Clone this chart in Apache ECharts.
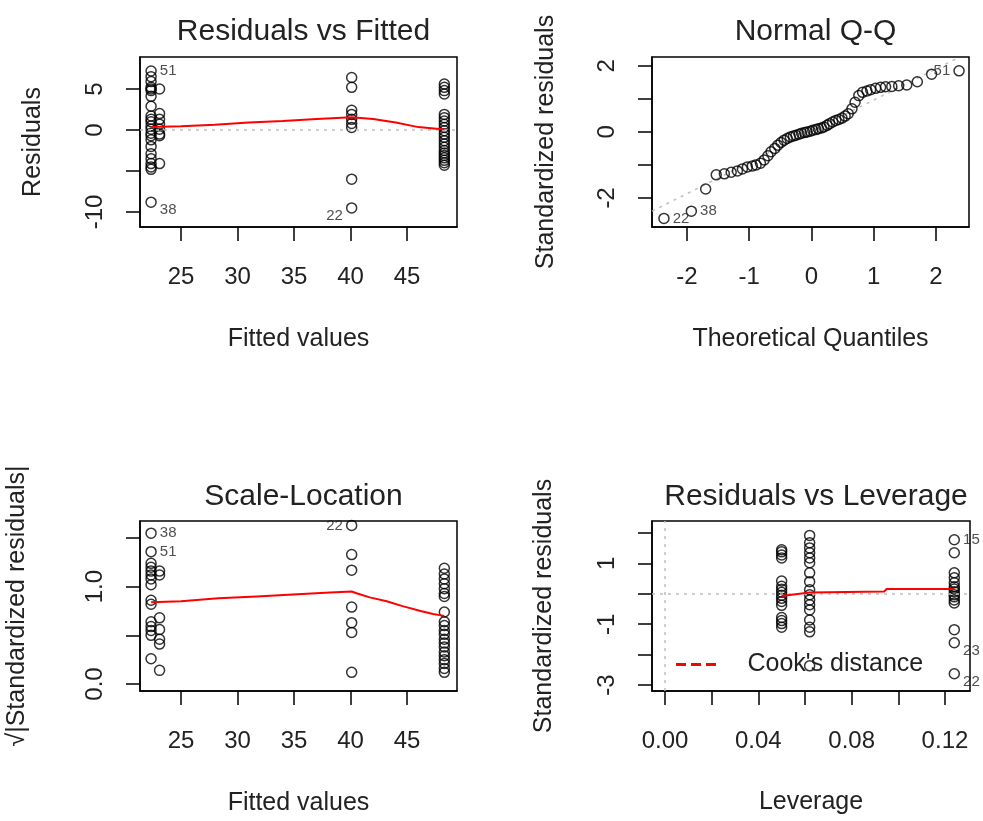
<!DOCTYPE html>
<html><head><meta charset="utf-8">
<script src="https://cdn.jsdelivr.net/npm/echarts@6/dist/echarts.min.js"></script>
<style>html,body{margin:0;padding:0;background:#fff}#c{width:983px;height:821px}</style>
</head><body><div id="c"></div>
<script>
const FONT = "'Liberation Sans', Arial, sans-serif";

// ---------- Panel 1: Residuals vs Fitted ----------
const rvfFitted = [22.35, 23.1, 40.1, 48.3];
const rvfResidA = [6.5, 5.9, 5.2, 5.0, 4.8, 4.1, 2.9, 1.7, 1.3, 1.0, 0.5, 0.1, -0.4, -0.7, -1.2, -2.0, -2.9, -3.5, -4.1, -4.5, -4.8];
const rvfResidB = [5.0, 2.0, 1.3, 0.7, 0.1, -0.5, -0.7, -4.1];
const rvfResidC = [6.4, 5.2, 2.4, 1.9, 1.3, 0.8, 0.3, -6.0];
const rvfResidD = [5.6, 5.2, 4.8, 4.4, 1.9, 1.5, 1.1, 0.7, 0.3, -0.1, -0.5, -0.9, -1.3, -1.7, -2.1, -2.5, -2.8, -3.1, -3.4, -3.7, -4.0, -4.3];
const rvfFlagIds = ['51', '38', '22'];
const rvfFlagFitted = [22.35, 22.35, 40.1];
const rvfFlagResid = [7.2, -8.8, -9.5];
const rvfSmoothX = [22.35, 25, 28, 31, 34, 37, 40.1, 42, 44, 46, 48.3];
const rvfSmoothY = [0.35, 0.45, 0.65, 0.9, 1.1, 1.35, 1.55, 1.35, 0.9, 0.35, 0.05];
const rvfXTicks = [25, 30, 35, 40, 45];
const rvfYTicks = [-10, -5, 0, 5];
const rvfYLabels = [-10, 0, 5];

// ---------- Panel 2: Normal Q-Q ----------
const qqTheo = [-1.70,-1.53,-1.40,-1.29,-1.19,-1.11,-1.03,-0.95,-0.89,-0.82,-0.76,-0.70,-0.65,-0.59,-0.54,-0.49,-0.44,-0.39,-0.34,-0.29,-0.25,-0.20,-0.16,-0.11,-0.07,-0.02,0.02,0.07,0.11,0.16,0.20,0.25,0.29,0.34,0.39,0.44,0.49,0.54,0.59,0.65,0.70,0.76,0.82,0.89,0.95,1.03,1.11,1.19,1.29,1.40,1.53,1.70,1.93];
const qqStd = [-1.73,-1.30,-1.27,-1.22,-1.18,-1.12,-1.06,-1.03,-1.00,-0.95,-0.85,-0.72,-0.60,-0.50,-0.40,-0.32,-0.25,-0.20,-0.15,-0.12,-0.10,-0.07,-0.04,-0.02,0.00,0.02,0.05,0.07,0.10,0.12,0.15,0.20,0.25,0.30,0.35,0.38,0.42,0.48,0.55,0.70,0.90,1.10,1.20,1.24,1.28,1.32,1.35,1.37,1.38,1.40,1.42,1.52,1.75];
const qqFlagIds = ['22', '38', '51'];
const qqFlagTheo = [-2.37, -1.93, 2.37];
const qqFlagStd = [-2.62, -2.40, 1.85];
const qqLineX = [-2.56, 2.38];
const qqLineY = [-2.40, 2.27];
const qqXTicks = [-2, -1, 0, 1, 2];
const qqYTicks = [-2, -1, 0, 1, 2];
const qqYLabels = [-2, 0, 2];

// ---------- Panel 3: Scale-Location ----------
const slFitted = [22.35, 23.1, 40.1, 48.3];
const slValA = [1.24, 1.20, 1.16, 1.12, 1.08, 1.02, 0.86, 0.82, 0.64, 0.59, 0.55, 0.50, 0.26];
const slValB = [1.16, 1.12, 0.68, 0.56, 0.46, 0.41, 0.14];
const slValC = [1.33, 1.17, 0.79, 0.63, 0.53, 0.12];
const slValD = [1.19, 1.13, 1.08, 1.03, 0.98, 0.93, 0.90, 0.74, 0.64, 0.60, 0.55, 0.51, 0.46, 0.42, 0.38, 0.33, 0.29, 0.25, 0.21, 0.16, 0.12];
const slFlagIds = ['38', '51', '22'];
const slFlagFitted = [22.35, 22.35, 40.1];
const slFlagVal = [1.55, 1.36, 1.63];
const slSmoothX = [22.35, 25, 28.3, 31.7, 34.9, 38.2, 40.1, 40.6, 41.7, 43.2, 44.6, 46.2, 47.3, 48.3];
const slSmoothY = [0.84, 0.85, 0.88, 0.90, 0.92, 0.94, 0.95, 0.93, 0.89, 0.85, 0.80, 0.75, 0.72, 0.70];
const slYTicks = [0, 0.5, 1.0, 1.5];
const slYLabels = [0, 1.0];

// ---------- Panel 4: Residuals vs Leverage ----------
const levLevels = [0.05, 0.062, 0.124];
const levStdA = [1.45, 1.38, 1.28, 1.18, 0.42, 0.25, 0.15, 0.05, -0.05, -0.15, -0.25, -0.38, -0.78, -0.88, -0.98, -1.10];
const levStdB = [1.92, 1.68, 1.51, 1.35, 1.18, 1.02, 0.69, 0.40, 0.13, -0.03, -0.20, -0.36, -0.53, -0.86, -1.10, -1.25, -2.37];
const levStdC = [1.35, 0.69, 0.53, 0.36, 0.23, 0.16, 0.07, -0.03, -0.10, -0.20, -0.30, -1.18];
const levFlagIds = ['15', '23', '22'];
const levFlagLev = [0.124, 0.124, 0.124];
const levFlagStd = [1.78, -1.61, -2.63];
const levSmoothX = [0.05, 0.062, 0.094, 0.095, 0.124];
const levSmoothY = [-0.07, 0.04, 0.08, 0.16, 0.16];
const levXTicks = [0, 0.02, 0.04, 0.06, 0.08, 0.10, 0.12];
const levXLabels = [0, 0.04, 0.08, 0.12];
const levYTicks = [-3, -2, -1, 0, 1, 2];
const levYLabels = [-3, -1, 1];

// ---------- helpers ----------
function cols(levels, arrays) {
  const out = [];
  arrays.forEach((arr, i) => arr.forEach(v => out.push([levels[i], v])));
  return out;
}
function pairs(xs, ys) { return xs.map((x, i) => [x, ys[i]]); }
const pointStyle = { color: 'rgba(0,0,0,0)', borderColor: '#000', borderWidth: 1.5 };
function scatter(gi, data) {
  return { type: 'scatter', xAxisIndex: gi, yAxisIndex: gi, data, symbol: 'circle', symbolSize: 10,
    itemStyle: pointStyle, silent: true, z: 2 };
}
function flagged(gi, xs, ys, ids, mid, shiftNeg) {
  const data = xs.map((x, i) => ({
    value: [x, ys[i]],
    label: { show: true, formatter: ids[i], position: x > mid ? 'left' : 'right', distance: 3,
      offset: [0, (shiftNeg && ys[i] < 0) ? 8 : 0], fontSize: 15, color: '#222', fontFamily: FONT }
  }));
  return scatter(gi, data);
}
function redLine(gi, xs, ys) {
  return { type: 'line', xAxisIndex: gi, yAxisIndex: gi, data: pairs(xs, ys), showSymbol: false, symbol: 'none',
    lineStyle: { color: '#ff0000', width: 2 }, silent: true, z: 5 };
}
const dotted = { color: '#bebebe', type: [3, 5], width: 1.5 };
function xAx(gi, min, max, ticks, labels, fmt, name, nameGap) {
  return { type: 'value', gridIndex: gi, min, max, position: 'bottom',
    axisLine: { show: true, onZero: false, lineStyle: { color: '#000', width: 1.5 } },
    splitLine: { show: false },
    axisTick: { show: true, length: 14, lineStyle: { color: '#000', width: 1.5 }, customValues: ticks },
    axisLabel: { customValues: labels, formatter: fmt, fontSize: 24, color: '#222', margin: 38, fontFamily: FONT },
    name, nameLocation: 'middle', nameGap, nameTextStyle: { fontSize: 25, color: '#222', fontFamily: FONT } };
}
function yAx(gi, min, max, ticks, labels, fmt, name, nameGap) {
  return { type: 'value', gridIndex: gi, min, max, position: 'left',
    axisLine: { show: true, onZero: false, lineStyle: { color: '#000', width: 1.5 } },
    splitLine: { show: false },
    axisTick: { show: true, length: 14, lineStyle: { color: '#000', width: 1.5 }, customValues: ticks },
    axisLabel: { customValues: labels, formatter: fmt, rotate: 90, fontSize: 24, color: '#222', margin: 33, fontFamily: FONT },
    name, nameLocation: 'middle', nameGap, nameTextStyle: { fontSize: 25, color: '#222', fontFamily: FONT } };
}
const fmtPlain = v => String(v);
const fmt1 = v => v.toFixed(1);
const fmt2 = v => v.toFixed(2);
const gridBase = { show: true, borderColor: '#000', borderWidth: 1.5, backgroundColor: 'rgba(0,0,0,0)' };
function ttl(text, cx, top) {
  return { text, left: cx, top, textAlign: 'center',
    textStyle: { fontSize: 30, fontWeight: 'normal', color: '#222', fontFamily: FONT } };
}

const P1X = [21.37, 49.42], P3X = P1X;

const option = {
  animation: false,
  backgroundColor: '#fff',
  title: [
    ttl('Residuals vs Fitted', 298.5, 12),
    ttl('Normal Q-Q', 810.5, 12),
    ttl('Scale-Location', 298.5, 477),
    ttl('Residuals vs Leverage', 811, 477)
  ],
  legend: {
    data: ["Cook's distance"], left: 671, top: 647, selectedMode: false,
    icon: 'path://M0,0H10V3H0Z M15,0H25V3H15Z M30,0H40V3H30Z',
    itemWidth: 41, itemHeight: 3,
    textStyle: { fontSize: 25, color: '#222', fontFamily: FONT, padding: [0, 0, 0, 26] }
  },
  grid: [
    Object.assign({ left: 140, top: 57, width: 317, height: 170 }, gridBase),
    Object.assign({ left: 652, top: 57, width: 317, height: 170 }, gridBase),
    Object.assign({ left: 140, top: 521, width: 317, height: 170 }, gridBase),
    Object.assign({ left: 652, top: 521, width: 318, height: 170 }, gridBase)
  ],
  xAxis: [
    xAx(0, P1X[0], P1X[1], rvfXTicks, rvfXTicks, fmtPlain, 'Fitted values', 100),
    xAx(1, -2.562, 2.53, qqXTicks, qqXTicks, fmtPlain, 'Theoretical Quantiles', 100),
    xAx(2, P3X[0], P3X[1], rvfXTicks, rvfXTicks, fmtPlain, 'Fitted values', 100),
    xAx(3, -0.00557, 0.13073, levXTicks, levXLabels, fmt2, 'Leverage', 99)
  ],
  yAxis: [
    yAx(0, -11.83, 8.9, rvfYTicks, rvfYLabels, fmtPlain, 'Residuals', 94),
    yAx(1, -2.88, 2.27, qqYTicks, qqYLabels, fmtPlain, 'Standardized residuals', 93),
    yAx(2, -0.072, 1.675, slYTicks, slYLabels, fmt1, '\u221A|Standardized residuals|', 110),
    yAx(3, -3.197, 2.395, levYTicks, levYLabels, fmtPlain, 'Standardized residuals', 95)
  ],
  series: [
    // panel 1
    Object.assign(scatter(0, cols(rvfFitted, [rvfResidA, rvfResidB, rvfResidC, rvfResidD])), {
      markLine: { silent: true, symbol: 'none', label: { show: false }, lineStyle: dotted, data: [{ yAxis: 0 }] }
    }),
    flagged(0, rvfFlagFitted, rvfFlagResid, rvfFlagIds, (P1X[0] + P1X[1]) / 2, true),
    redLine(0, rvfSmoothX, rvfSmoothY),
    // panel 2
    { type: 'line', xAxisIndex: 1, yAxisIndex: 1, data: pairs(qqLineX, qqLineY), showSymbol: false, symbol: 'none',
      lineStyle: dotted, silent: true, z: 1 },
    scatter(1, pairs(qqTheo, qqStd)),
    flagged(1, qqFlagTheo, qqFlagStd, qqFlagIds, 0, false),
    // panel 3
    scatter(2, cols(slFitted, [slValA, slValB, slValC, slValD])),
    flagged(2, slFlagFitted, slFlagVal, slFlagIds, (P3X[0] + P3X[1]) / 2, false),
    redLine(2, slSmoothX, slSmoothY),
    // panel 4
    Object.assign(scatter(3, cols(levLevels, [levStdA, levStdB, levStdC])), {
      markLine: { silent: true, symbol: 'none', label: { show: false }, lineStyle: dotted, data: [{ yAxis: 0 }, { xAxis: 0 }] }
    }),
    flagged(3, levFlagLev, levFlagStd, levFlagIds, 1, true),
    redLine(3, levSmoothX, levSmoothY),
    { type: 'line', name: "Cook's distance", xAxisIndex: 3, yAxisIndex: 3, data: [], color: '#ff0000',
      itemStyle: { color: '#ff0000' }, lineStyle: { color: '#ff0000', type: 'dashed', width: 2 } }
  ]
};
const chart = echarts.init(document.getElementById('c'), null, { renderer: 'canvas' });
chart.setOption(option);
</script></body></html>
